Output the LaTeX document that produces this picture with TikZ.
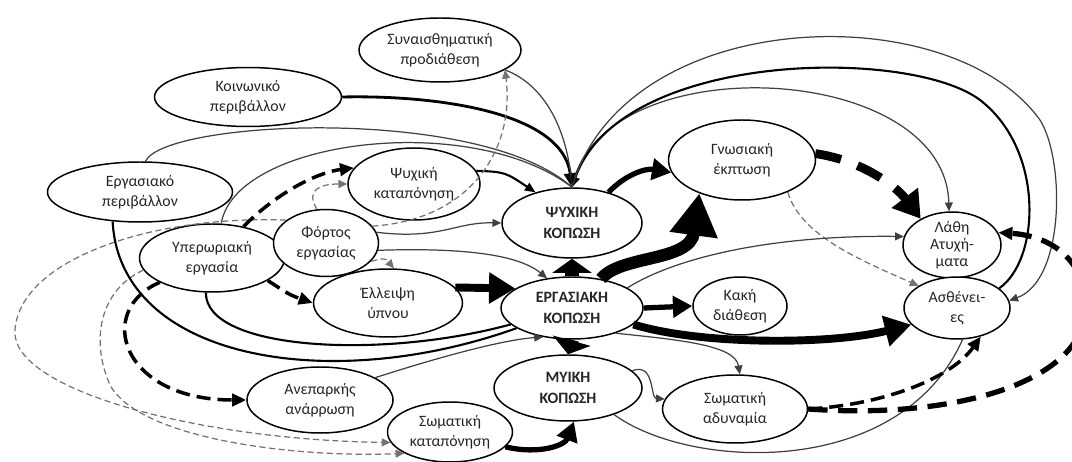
\documentclass[tikz,border=0pt]{standalone}
\usepackage{fontspec}
\setmainfont{Carlito}
\usetikzlibrary{shapes.geometric,arrows.meta}

\begin{document}
\begin{tikzpicture}[x=0.02cm, y=-0.02cm,
box/.style={ellipse, draw, line width=0.85pt, fill=white, align=center, inner sep=-5pt, text=black!85},
fine/.style={draw=black!75, line width=0.7pt},
finear/.style={fine, -{Triangle[length=5pt,width=4.5pt]}},
fineda/.style={draw=black!55, line width=0.7pt, dash pattern=on 3.5pt off 2pt, -{Triangle[length=5pt,width=4.5pt]}},
mid/.style={line width=1.2pt, -{Triangle[length=6pt,width=5pt]}},
heavy/.style={line width=1.6pt, -{Triangle[length=8pt,width=7pt]}},
heavyda/.style={line width=2pt, dash pattern=on 8pt off 4pt, -{Triangle[length=8pt,width=7pt]}},
big/.style={line width=3pt, -{Triangle[length=11pt,width=12pt]}},
wide/.style={line width=4.5pt, -{Triangle[length=15pt,width=17pt]}},
stub/.style={line width=8pt, -{Triangle[length=8pt,width=22pt]}}]
\useasboundingbox (0,0) rectangle (1072,462);
\def\nf{\fontsize{9}{11.5}\selectfont}

%all the ellipses: name/x/y/width/height/font/text
\foreach \n/\x/\y/\w/\h/\fnt/\txt in {
  emo/440/50/162/64/{}/{Συναισθηματική\\προδιάθεση},
  soc/248/97/187/59/{}/{Κοινωνικό\\περιβάλλον},
  env/140/192/185/60/{}/{Εργασιακό\\περιβάλλον},
  mstr/414/184/132/72/{}/{Ψυχική\\καταπόνηση},
  over/212/258/145/68/{}/{Υπερωριακή\\εργασία},
  load/326/243/105/67/{}/{Φόρτος\\εργασίας},
  sleep/388/303/149/68/{}/{Έλλειψη\\ύπνου},
  rec/320/400/146/66/{}/{Ανεπαρκής\\ανάρρωση},
  pstr/450/432/125/60/{}/{Σωματική\\καταπόνηση},
  mf/572/223/140/70/{\bfseries}/{ΨΥΧΙΚΗ\\ΚΟΠΩΣΗ},
  wf/572/308/142/62/{\bfseries}/{ΕΡΓΑΣΙΑΚΗ\\ΚΟΠΩΣΗ},
  musc/568/388/148/66/{\bfseries}/{ΜΥΙΚΗ\\ΚΟΠΩΣΗ},
  cog/742/160/147/80/{}/{Γνωσιακή\\έκπτωση},
  mood/740/306/94/58/{}/{Κακή\\διάθεση},
  err/952/245/98/66/{\fontsize{9}{9.8}\selectfont}/{Λάθη\\Ατυχή-\\ματα},
  ill/957/308/106/62/{}/{Ασθένει-\\ες},
  weak/735/409/145/68/{}/{Σωματική\\αδυναμία}}
  \node[box, font=\nf\fnt, minimum width=\w*0.02cm, minimum height=\h*0.02cm] (\n) at (\x,\y) {\txt};

%everything that ends on top of the psychological fatigue
\draw[heavy] (soc.east) .. controls (430,95) and (562,110) .. (mf.north);
\draw[fine] (emo.-17) .. controls (545,85) and (568,130) .. (mf.north);
\draw[fine] (env.80) .. controls (165,120) and (480,105) .. (mf.north);
\draw[fine] (over.75) .. controls (235,140) and (470,110) .. (mf.north);
\draw[mid] (mstr.12) .. controls (505,172) .. (mf.140);

%workload
\draw[finear] (load.12) .. controls (440,240) and (455,222) .. (mf.west);
\draw[finear] (load.-8) .. controls (450,248) and (515,252) .. (wf.130);
\draw[fineda] (load.20) .. controls (470,220) and (515,150) .. (emo.-17);
\draw[fineda] (load.105) .. controls (305,190) and (320,184) .. (mstr.west);
\draw[fineda] (load.-22) .. controls (385,258) .. (sleep.80);
\draw[fineda] (load.150) .. controls (150,215) and (20,260) .. (15,330)
  .. controls (10,390) and (200,440) .. (pstr.190);

%overtime
\draw[fineda] (over.190) .. controls (100,290) and (90,340) .. (110,385)
  .. controls (140,440) and (300,458) .. (pstr.205);
\draw[heavyda] (over.45) .. controls (280,190) and (320,172) .. (mstr.165);
\draw[heavyda] (over.-22) .. controls (290,295) .. (sleep.west);
\draw[heavyda] (over.205) .. controls (95,310) and (120,400) .. (rec.west);
\draw[mid, -] (over.-100) .. controls (205,350) and (380,360) .. (wf.195);
\draw[mid, -] (env.-133) .. controls (120,360) and (330,395) .. (wf.200);
\draw[finear] (rec.22) .. controls (430,360) and (500,340) .. (wf.225);

%work fatigue and what comes out of it
\draw[wide] (sleep.13) -- (wf.161);
\draw[stub] (wf.north) -- (mf.south);
\draw[stub] (wf.south) -- (musc.north);
\draw[big] (wf.east) -- (mood.west);
\draw[wide] (wf.-15) .. controls (700,345) and (830,345) .. (ill.200);
\draw[line width=7pt, -{Triangle[length=24pt,width=26pt]}] (wf.45) .. controls (620,255) and (690,262) .. (cog.-142);
\draw[big] (mf.40) .. controls (625,175) and (645,168) .. (cog.190);
\draw[line width=5pt, dash pattern=on 15pt off 10pt, -{Triangle[length=15pt,width=18pt]}] (cog.5) .. controls (860,160) and (895,185) .. (err.140);
\draw[fineda] (cog.-35) .. controls (800,235) and (860,260) .. (ill.150);
\draw[finear] (wf.20) .. controls (680,255) and (780,235) .. (err.170);
\draw[finear] (wf.-30) .. controls (680,340) and (735,345) .. (weak.82);
\draw[finear] (musc.15) .. controls (655,362) and (650,398) .. (weak.172);
\draw[fine] (musc.-30) .. controls (690,470) and (900,480) .. (ill.-80);
\draw[big] (pstr.-15) .. controls (540,455) and (565,445) .. (musc.-80);

%the big arcs from the psychological fatigue to the right
\draw[finear] (mf.north) .. controls (600,45) and (945,60) .. (err.95);
\draw[mid] (ill.25) .. controls (1040,260) and (1045,150) .. (980,100)
  .. controls (910,47) and (620,50) .. (mf.north);
\draw[finear] (mf.north) .. controls (625,5) and (950,-5) .. (1040,120)
  .. controls (1065,160) and (1065,280) .. (ill.8);

%physical weakness
\draw[heavyda] (weak.east) .. controls (880,405) and (950,380) .. (ill.-50);
\draw[heavyda, line width=3pt, dash pattern=on 11pt off 6pt] (weak.east) .. controls (960,420) and (1092,380) .. (1086,300)
  .. controls (1080,250) and (1040,235) .. (err.15);
\end{tikzpicture}
\end{document}
